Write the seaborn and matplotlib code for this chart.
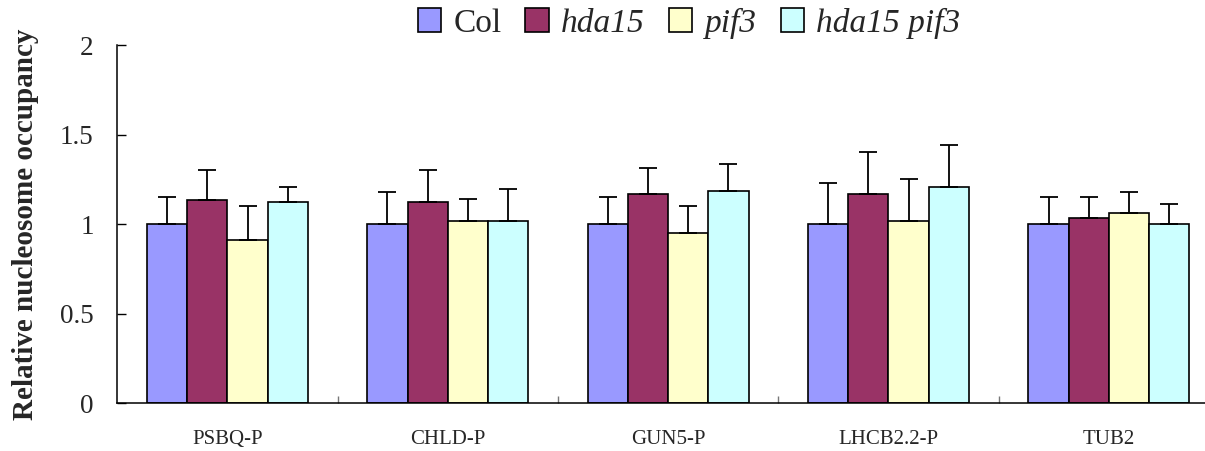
import numpy as np
import pandas as pd
import matplotlib
matplotlib.use("Agg")
import matplotlib.pyplot as plt
from matplotlib.ticker import FixedLocator
import seaborn as sns

# values
promoters = ["PSBQ-P", "CHLD-P", "GUN5-P", "LHCB2.2-P", "TUB2"]
genotypes = ["Col", "hda15", "pif3", "hda15 pif3"]
col_vals = [1.0, 1.0, 1.0, 1.0, 1.0]
hda15_vals = [1.134, 1.123, 1.166, 1.166, 1.037]
pif3_vals = [0.909, 1.017, 0.951, 1.017, 1.060]
double_vals = [1.123, 1.017, 1.186, 1.206, 1.0]
col_err = [0.154, 0.177, 0.154, 0.229, 0.154]
hda15_err = [0.169, 0.180, 0.150, 0.234, 0.117]
pif3_err = [0.190, 0.126, 0.148, 0.234, 0.117]
double_err = [0.085, 0.180, 0.150, 0.235, 0.113]
colors = ["#9999FF", "#993366", "#FFFFCC", "#CCFFFF"]

values = [col_vals, hda15_vals, pif3_vals, double_vals]
errors = [col_err, hda15_err, pif3_err, double_err]

df = pd.DataFrame({
    "promoter": promoters * len(genotypes),
    "genotype": [g for g in genotypes for _ in promoters],
    "value": [v for vals in values for v in vals],
})

sns.set_style("white")
plt.rcParams["font.family"] = ["Liberation Serif", "DejaVu Serif"]

fig = plt.figure(figsize=(12.05, 4.51), dpi=100)
ax = fig.add_axes([117.3 / 1205, 1 - 403.3 / 451, 1101.7 / 1205, 358.3 / 451])

sns.barplot(data=df, x="promoter", y="value", hue="genotype", order=promoters,
            hue_order=genotypes, palette=colors, width=0.73, errorbar=None,
            edgecolor="black", linewidth=1.2, saturation=1, ax=ax)

# one-sided error bars on top of each bar
for cont, err in zip(ax.containers, errors):
    xs = [b.get_x() + b.get_width() / 2 for b in cont]
    ys = [b.get_height() for b in cont]
    ax.errorbar(xs, ys, yerr=[np.zeros(len(err)), err], fmt="none",
                ecolor="black", elinewidth=1.3, capsize=6.8, capthick=1.3, zorder=3)

ax.set_ylim(0, 2)
ax.set_xlim(-0.5, 4.5)
ax.set_yticks([0, 0.5, 1, 1.5, 2])
ax.set_yticklabels(["0", "0.5", "1", "1.5", "2"])
ax.tick_params(axis="y", direction="in", length=6.5, width=1, pad=17,
               labelsize=19.5, color="black", left=True)
ax.tick_params(axis="x", which="major", length=0, pad=19, labelsize=15)
ax.xaxis.set_minor_locator(FixedLocator([0.5, 1.5, 2.5, 3.5]))
ax.tick_params(axis="x", which="minor", direction="in", length=5, width=1,
               color="#777777", bottom=True)

for side in ["top", "right"]:
    ax.spines[side].set_visible(False)
for side in ["left", "bottom"]:
    ax.spines[side].set_color("black")
    ax.spines[side].set_linewidth(1.1)

ax.set_xlabel("")
ax.set_ylabel("Relative nucleosome occupancy", fontsize=21, fontweight="bold")
ax.yaxis.set_label_coords(-0.071, 0.5)

handles, labels = ax.get_legend_handles_labels()
leg = ax.legend(handles, labels, loc="center", bbox_to_anchor=(689 / 1205, 1 - 23 / 451),
                bbox_transform=fig.transFigure, ncol=4, frameon=False, fontsize=24,
                handlelength=0.7, handleheight=0.7, handletextpad=0.37,
                columnspacing=0.72, borderpad=0)
for t in leg.get_texts():
    if t.get_text() != "Col":
        t.set_fontstyle("italic")

fig.savefig("out.png", dpi=100)
